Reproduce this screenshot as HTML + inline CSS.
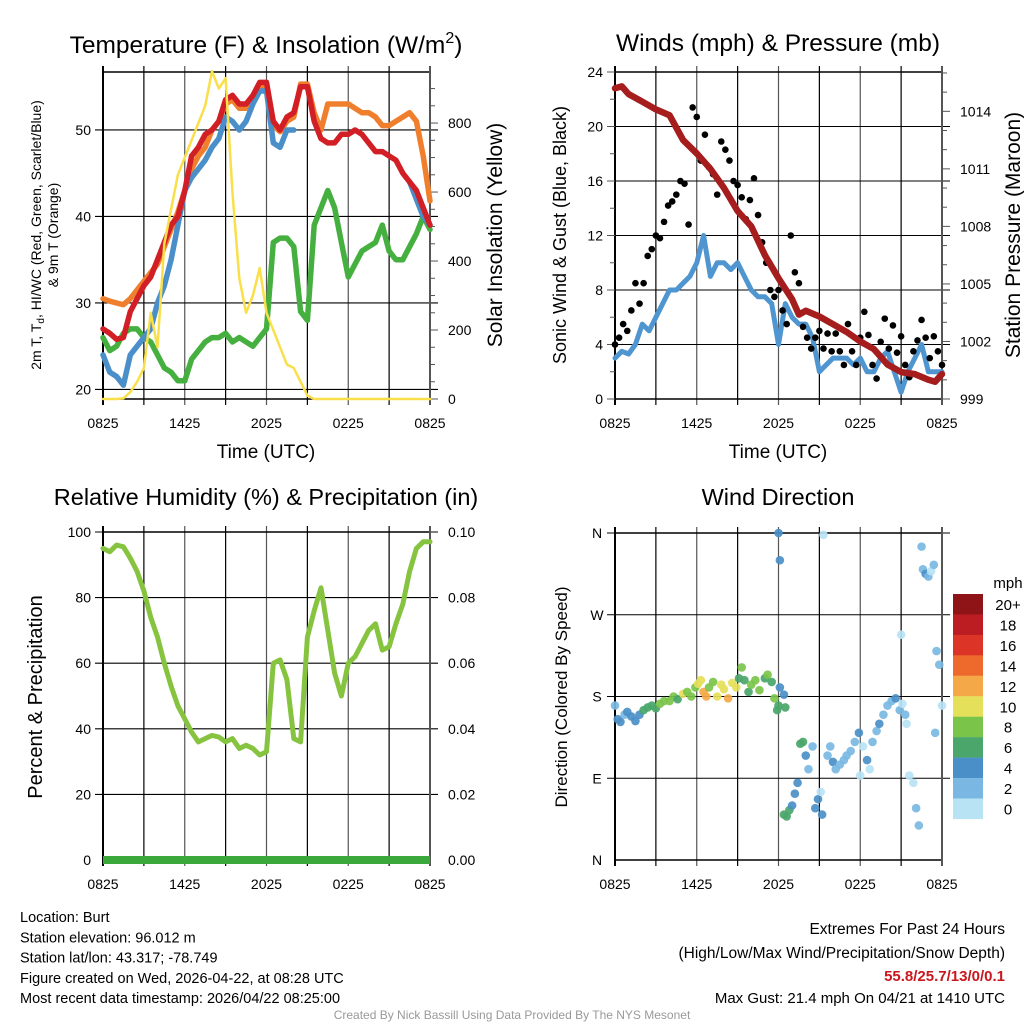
<!DOCTYPE html>
<html><head><meta charset="utf-8">
<style>
body{margin:0;background:#fff;font-family:"Liberation Sans",sans-serif;}
svg{display:block}
text{font-family:"Liberation Sans",sans-serif;}
</style></head>
<body>
<svg id="c" width="1024" height="1024" viewBox="0 0 1024 1024">
<rect x="0" y="0" width="1024" height="1024" fill="#fff"/>
</svg>
<script>
// ---------- data ----------
const timeLabels = ["0825","1425","2025","0225","0825"];
const hrs = [0,0.5,1,1.5,2,2.5,3,3.5,4,4.5,5,5.5,6,6.5,7,7.5,8,8.5,9,9.5,10,10.5,11,11.5,12,12.5,13,13.5,14,14.5,15,15.5,16,16.5,17,17.5,18,18.5,19,19.5,20,20.5,21,21.5,22,22.5,23,23.5,24];
const tempRed = [27,26.5,25.8,26,29,30.5,32,33,35,37,39,40,43,47,48,49.5,50,51,53.5,54,53,53,54,55.5,55.5,51,50,51.5,52,55,55,51,49,48.5,48.5,49.5,49.5,50,49.5,48.5,47.5,47.5,47,46.5,45,44,43,41,39];
const tempOrange = [30.5,30.2,30,29.8,30.5,31.5,32.5,33.5,34.5,36.5,38.5,40.5,43,45.5,47,48,50,51,53,53.5,52.5,52.5,53.5,55,55,50.5,49.8,51,51.5,55.3,55.3,52,50,53,53,53,53,52.5,52,52,51.5,50.5,50.5,51,51.5,52,51,47,41.8];
const tempBlue = [24,22,21.5,20.5,24,25,26,27,30,32,35,39,43,44.5,45.5,46.5,48,49,51.5,51,50,51,53,54.5,54.5,48.5,48,50,50,null,null,49.5,null,null,null,null,null,null,null,null,null,null,null,null,null,44,42,40,39];
const dewGreen = [26,24.5,25,26.5,27,27,26,25.5,24,22.5,22,21,21,23.5,24.5,25.5,26,26,26.5,25.5,26,25.5,25,26,27,37,37.5,37.5,36.5,29,28,39,41,43,41,37,33,34.5,36,36.5,37,39,36,35,35,36.5,38,40,38.5];
const insol = [0,0,0,2,20,50,90,250,150,450,550,650,700,750,800,850,950,900,930,600,350,250,300,380,250,200,150,100,90,50,10,0,0,0,0,0,0,0,0,0,0,0,0,0,0,0,0,0,0];
const windSpd = [3,3.5,3.3,4,5.5,5,6,7,8,8,8.5,9,10,12,9,10,10,9.5,10,9,8,7.5,7.5,7,4,7,6,5.5,5.5,4.5,2,2.5,3,3,3,2.5,3,2,2,3,3.5,2,0.5,2,3,4,2,2,2];
const gustHrs = [0,0.3,0.6,0.9,1.2,1.5,1.8,2.1,2.4,2.7,3,3.3,3.6,3.9,4.2,4.5,4.8,5.1,5.4,5.7,6,6.3,6.6,6.9,7.2,7.5,7.8,8.1,8.4,8.7,9,9.3,9.6,9.9,10.2,10.5,10.8,11.1,11.4,11.7,12,12.3,12.6,12.9,13.2,13.5,13.8,14.1,14.4,14.7,15,15.3,15.6,15.9,16.2,16.5,16.8,17.1,17.4,17.7,18,18.3,18.6,18.9,19.2,19.5,19.8,20.1,20.4,20.7,21,21.3,21.6,21.9,22.2,22.5,22.8,23.1,23.4,23.7,24];
const gustVal = [4,4.5,5.5,5,6.5,8.5,7,8.5,10.5,11,12,11.8,13,14.2,14.5,15,16,15.8,12.8,21.4,20.7,17.5,19.4,17,16.5,15,18.9,18.3,17.5,16,15.7,14.8,13.2,14.6,16.2,13.5,11.5,10,8,7.5,8,6.5,5.5,12,9.3,8.5,5.3,4.5,3.7,4.5,5,3.7,4.8,3.5,4.8,3.5,2.5,5.5,3.5,2.5,4.5,6.4,4.7,2.5,1.5,4.2,5.9,3.7,5.4,3.4,4.6,2.5,1.6,3.5,4.3,5.8,4.5,3,4.6,3.5,2.5];
const pHrs = [0,0.5,1,2,3,4,5,6,7,8,9,10,11,12,13,13.5,14,15,16,17,18,19,20,21,22,23,23.5,24];
const pres = [1015.2,1015.3,1014.9,1014.5,1014.1,1013.8,1012.5,1011.8,1011.0,1010.0,1008.8,1008.0,1006.5,1005.3,1004.2,1003.4,1003.6,1003.3,1002.9,1002.5,1002.0,1001.6,1000.8,1000.4,1000.3,1000.0,999.9,1000.3];
const rh = [95,94,96,95.5,92,88,82,74,68,60,53,47,43,39,36,37,38,37.5,36,37,34,35,34,32,33,60,61,55,37,36,68,76,83,70,57,50,60,62,66,70,72,64,65,72,78,88,95,97,97];
const dirHrs = [0,0.2,0.4,0.7,0.9,1.2,1.5,1.8,2.1,2.4,2.7,3.0,3.3,3.6,4.0,4.3,4.6,5.0,5.3,5.6,5.9,6.1,6.3,6.5,6.7,6.9,7.2,7.5,7.8,8.0,8.3,8.6,8.9,9.1,9.3,9.5,9.8,10.0,10.3,10.6,11.0,11.2,11.5,11.7,11.9,12.0,12.1,12.4,12.5,12.0,12.1,12.4,12.6,12.8,13.0,13.2,13.4,13.6,13.8,14.0,14.2,14.5,14.7,14.9,15.2,15.3,15.1,15.6,15.8,16.0,16.2,16.5,16.8,17.0,17.3,17.6,17.9,18.0,18.2,18.5,18.7,18.9,19.2,19.4,19.7,20.0,20.3,20.6,20.9,21.0,21.1,21.3,21.4,21.6,21.9,22.1,22.3,22.5,22.6,22.8,23.0,23.2,23.4,23.6,23.8,24.0,23.5];
const dirDeg = [170,155,152,160,163,158,153,160,165,168,170,167,172,175,175,180,177,183,185,180,190,194,198,185,180,190,196,180,193,188,178,195,190,200,212,198,185,193,198,187,200,204,196,178,165,170,190,182,168,360,330,50,48,55,60,73,85,128,130,115,100,125,57,67,50,358,75,115,125,108,100,105,110,115,120,130,140,93,125,110,100,130,142,150,160,170,175,178,165,248,172,160,150,93,85,57,38,345,320,315,312,318,325,230,215,170,140];
const dirSpd = [3,4,4,3,4,4,4,5,6,6,7,6,8,8,8,9,6,10,9,9,9,10,10,12,13,8,8,10,10,11,13,10,10,7,8,7,6,8,8,8,7,8,7,8,6,6,4,4,6,4,4,6,6,6,5,4,4,6,6,4,3,2,4,4,4,1,1,2,2,4,2,2,2,2,2,2,4,1,1,4,1,2,2,4,2,2,2,4,2,0,0,2,1,1,1,2,2,2,2,4,2,1,2,2,2,0,2];
const speedLabels = ["20+","18","16","14","12","10","8","6","4","2","0"];
const speedColors = ["#8e1418","#bb1d23","#dc3528","#ee6a2c","#f5a847","#e5e05a","#7bc44a","#4aa66a","#4a8fc7","#7ab8e3","#b8e3f5"];

// ---------- helpers ----------
const svg = document.getElementById('c');
const NS = "http://www.w3.org/2000/svg";
function mk(tag, attrs, parent){
  const e = document.createElementNS(NS, tag);
  for (const k in attrs) e.setAttribute(k, attrs[k]);
  (parent||svg).appendChild(e);
  return e;
}
function txt(s, x, y, size, anchor, name, extra){
  const t = mk('text', Object.assign({x:x, y:y, 'font-size':size, 'text-anchor':anchor||'middle', fill:'#000'}, extra||{}));
  t.textContent = s;
  
  
  return t;
}
const L = {tl:{x0:103,x1:430,y0:72,y1:399}, tr:{x0:615,x1:942,y0:72,y1:399}, bl:{x0:103,x1:430,y0:532,y1:860}, br:{x0:615,x1:942,y0:533,y1:860}};
function xs(p,h){return p.x0 + h/24*(p.x1-p.x0);}
function lin(p,v,lo,hi){return p.y1 - (v-lo)/(hi-lo)*(p.y1-p.y0);}

function frame(p, name, hLines){
  const g = mk('g', {});
  
  
  for (let i=1;i<8;i++){
    const x = xs(p, i*3);
    mk('line',{x1:x,y1:p.y0-6,x2:x,y2:p.y1+6,stroke:i%2==0?'#555':'#000','stroke-width':1.2},g);
  }
  hLines.forEach(y=>mk('line',{x1:p.x0-8,y1:y,x2:p.x1+8,y2:y,stroke:'#000','stroke-width':1.1},g));
  mk('rect',{x:p.x0,y:p.y0,width:p.x1-p.x0,height:p.y1-p.y0,fill:'none',stroke:'#000','stroke-width':1.5},g);
  mk('line',{x1:p.x0,y1:p.y0-6,x2:p.x0,y2:p.y1+6,stroke:'#000','stroke-width':2},g);
  mk('line',{x1:p.x1,y1:p.y0-6,x2:p.x1,y2:p.y1+6,stroke:'#555','stroke-width':2},g);
  timeLabels.forEach((s,i)=>txt(s, xs(p,i*6), p.y1+29, 14, 'middle', 'x-tick-label'));
  return g;
}
function path(p, hours, vals, fy, color, w, name){
  let d='', pen=false;
  hours.forEach((h,i)=>{
    const v = vals[i];
    if (v===null||v===undefined){pen=false;return;}
    d += (pen?'L':'M') + xs(p,h).toFixed(1) + ',' + fy(v).toFixed(1);
    pen = true;
  });
  const e = mk('path',{d:d,fill:'none',stroke:color,'stroke-width':w,'stroke-linejoin':'round','stroke-linecap':'round'});
  
  
  return e;
}

// ---------- panel 1: temperature ----------
(function(){
  const p = L.tl;
  const fy = v=>lin(p,v,18.9,56.7);
  const fi = v=>lin(p,v,0,948);
  frame(p,'temperature-panel',[20,30,40,50].map(fy));
  [0,200,400,600,800].forEach(v=>{txt(String(v), p.x1+18, fi(v)+5, 14, 'start', 'right-y-tick-label');});
  for (let v=0; v<=900; v+=50) mk('line',{x1:p.x1,y1:fi(v),x2:p.x1+(v%200==0?8:5),y2:fi(v),stroke:'#555','stroke-width':1});
  [20,30,40,50].forEach(v=>txt(String(v), p.x0-12, fy(v)+5, 14, 'end', 'left-y-tick-label'));
  path(p,hrs,tempOrange,fy,'#f07f2d',5.5,'9m-temp-line');
  path(p,hrs,dewGreen,fy,'#45b03f',5.5,'dewpoint-line');
  path(p,hrs,tempBlue,fy,'#4a8fc9',5.5,'heat-index-wind-chill-line');
  path(p,hrs,tempRed,fy,'#d21f26',5.5,'2m-temp-line');
  path(p,hrs,insol,fi,'#f9e04b',2.5,'solar-insolation-line');
  txt('Temperature (F) & Insolation (W/m', 266, 53, 24.5, 'middle', 'temperature-title').innerHTML = 'Temperature (F) &amp; Insolation (W/m<tspan font-size="16" dy="-10">2</tspan><tspan dy="10">)</tspan>';
  txt('Time (UTC)', 266, 458, 19, 'middle', 'x-axis-title');
  const a = txt('', 0, 0, 14, 'middle', 'left-y-axis-title', {transform:'translate(41,235) rotate(-90)'});
  a.innerHTML = '2m T, T<tspan font-size="10" dy="3">d</tspan><tspan dy="-3">, HI/WC (Red, Green, Scarlet/Blue)</tspan>';
  txt('& 9m T (Orange)', 0, 0, 14, 'middle', 'left-y-axis-title-2', {transform:'translate(58,235) rotate(-90)'});
  txt('Solar Insolation (Yellow)', 0, 0, 21, 'middle', 'right-y-axis-title', {transform:'translate(502,235) rotate(-90)'});
})();

// ---------- panel 2: winds ----------
(function(){
  const p = L.tr;
  const fw = v=>lin(p,v,0,24);
  const fp = v=>lin(p,v,999,1016.05);
  frame(p,'winds-panel',[4,8,12,16,20].map(fw));
  [0,4,8,12,16,20,24].forEach(v=>txt(String(v), p.x0-12, fw(v)+5, 14, 'end', 'left-y-tick-label'));
  [999,1002,1005,1008,1011,1014].forEach(v=>txt(String(v), p.x1+18, fp(v)+5, 14, 'start', 'right-y-tick-label'));
  for (let v=999; v<=1016; v++) mk('line',{x1:p.x1,y1:fp(v),x2:p.x1+((v-999)%3==0?8:5),y2:fp(v),stroke:'#555','stroke-width':1});
  for (let v=0; v<=24; v+=2) mk('line',{x1:p.x0-(v%4==0?8:5),y1:fw(v),x2:p.x0,y2:fw(v),stroke:'#555','stroke-width':1});
  path(p,hrs,windSpd,fw,'#4f95d0',5,'wind-speed-line');
  gustHrs.forEach((h,i)=>{
    if (gustVal[i]===undefined) return;
    const c = mk('circle',{cx:xs(p,h),cy:fw(gustVal[i]),r:3.3,fill:'#000'});
    
    
  });
  path(p,pHrs,pres,fp,'#a51d1d',6.5,'pressure-line');
  txt('Winds (mph) & Pressure (mb)', 778, 51, 24.5, 'middle', 'winds-title');
  txt('Time (UTC)', 778, 458, 19, 'middle', 'x-axis-title');
  txt('Sonic Wind & Gust (Blue, Black)', 0, 0, 18, 'middle', 'left-y-axis-title', {transform:'translate(566,235) rotate(-90)'});
  txt('Station Pressure (Maroon)', 0, 0, 21, 'middle', 'right-y-axis-title', {transform:'translate(1020,235) rotate(-90)'});
})();

// ---------- panel 3: RH ----------
(function(){
  const p = L.bl;
  const fr = v=>lin(p,v,0,100);
  frame(p,'humidity-panel',[20,40,60,80,100].map(fr));
  [0,20,40,60,80,100].forEach(v=>txt(String(v), p.x0-12, fr(v)+5, 14, 'end', 'left-y-tick-label'));
  ['0.00','0.02','0.04','0.06','0.08','0.10'].forEach((s,i)=>txt(s, p.x1+18, fr(i*20)+5, 14, 'start', 'right-y-tick-label'));
  path(p,hrs,rh,fr,'#86c440',5,'relative-humidity-line');
  const z = mk('line',{x1:p.x0,y1:p.y1,x2:p.x1,y2:p.y1,stroke:'#3aa83a','stroke-width':8});
  
  
  txt('Relative Humidity (%) & Precipitation (in)', 266, 505, 23.5, 'middle', 'humidity-title');
  txt('Percent & Precipitation', 0, 0, 20, 'middle', 'left-y-axis-title', {transform:'translate(42,697) rotate(-90)'});
})();

// ---------- panel 4: wind direction ----------
(function(){
  const p = L.br;
  const fd = v=>lin(p,v,0,360);
  frame(p,'wind-direction-panel',[90,180,270,360].map(fd));
  ['N','E','S','W','N'].forEach((s,i)=>txt(s, p.x0-18, fd(i*90)+5, 14, 'middle', 'direction-tick-label'));
  dirHrs.forEach((h,i)=>{
    const idx = Math.max(0, 10 - Math.min(10, Math.floor(dirSpd[i]/2)));
    const c = mk('circle',{cx:xs(p,h),cy:fd(dirDeg[i]),r:4.3,fill:speedColors[idx],'fill-opacity':0.92});
    
    
  });
  txt('Wind Direction', 778, 505, 23.5, 'middle', 'wind-direction-title');
  txt('Direction (Colored By Speed)', 0, 0, 17, 'middle', 'left-y-axis-title', {transform:'translate(567,697) rotate(-90)'});
  const lg = mk('g',{});
  
  
  txt('mph', 1008, 588, 15, 'middle', 'legend-title');
  speedLabels.forEach((s,i)=>{
    const y = 594 + i*20.45;
    const r = mk('rect',{x:953,y:y,width:30,height:20.6,fill:speedColors[i]},lg);
    
    
    txt(s, 1008, y+16, 15, 'middle', 'legend-entry');
  });
})();

// ---------- footer text ----------
["Location: Burt","Station elevation: 96.012 m","Station lat/lon: 43.317; -78.749","Figure created on Wed, 2026-04-22, at 08:28 UTC","Most recent data timestamp: 2026/04/22 08:25:00"].forEach((s,i)=>txt(s, 20, 922+i*20.3, 14.5, 'start', 'station-info-line'));
txt('Extremes For Past 24 Hours', 1005, 934, 15.5, 'end', 'extremes-heading');
txt('(High/Low/Max Wind/Precipitation/Snow Depth)', 1005, 958, 15.5, 'end', 'extremes-legend');
txt('55.8/25.7/13/0/0.1', 1005, 981, 15, 'end', 'extremes-values', {fill:'#c8171e','font-weight':'bold'});
txt('Max Gust: 21.4 mph On 04/21 at 1410 UTC', 1005, 1003, 15, 'end', 'max-gust');
txt('Created By Nick Bassill Using Data Provided By The NYS Mesonet', 512, 1019, 12, 'middle', 'credit', {fill:'#999'});
</script>
</body></html>
